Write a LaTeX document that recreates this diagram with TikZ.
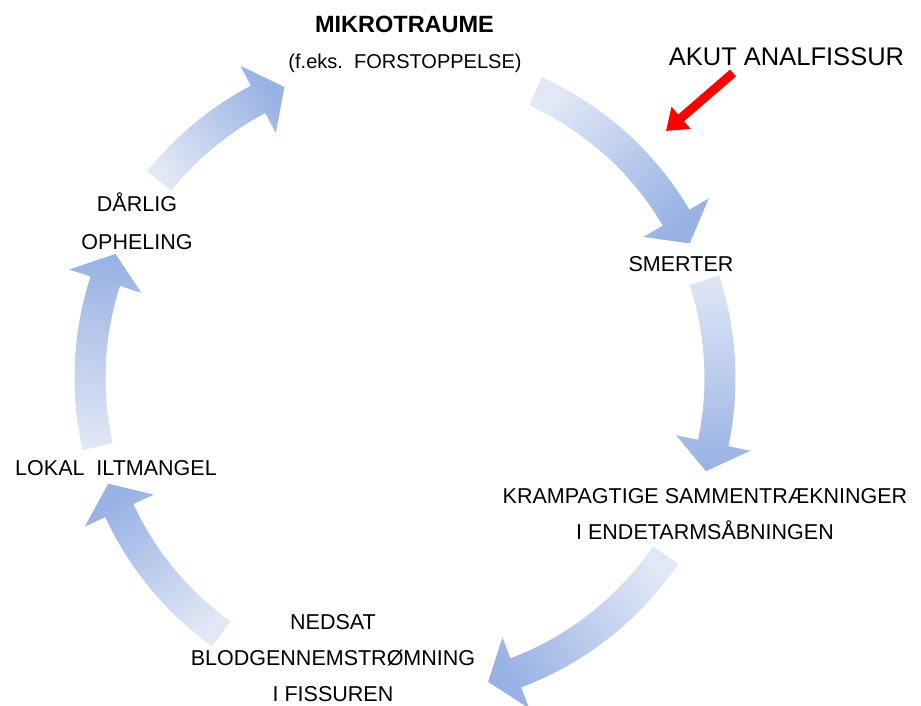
\documentclass[tikz,border=0pt]{standalone}
\usepackage{fontspec}
\setmainfont{Liberation Sans}
\usetikzlibrary{arrows.meta}
\definecolor{tailc}{RGB}{224,231,245}
\definecolor{tipc}{RGB}{152,178,228}
\definecolor{redarrow}{RGB}{255,0,0}
\tikzset{
  lbl/.style={text=black,inner sep=0pt,align=center,font=\fontsize{21.5}{36}\selectfont},
  title/.style={text=black,inner sep=0pt,font=\bfseries\fontsize{23.5}{28}\selectfont},
  sub/.style={text=black,inner sep=0pt,font=\fontsize{20}{24}\selectfont},
  akut/.style={text=black,inner sep=0pt,font=\fontsize{25.5}{30}\selectfont},
}
\newcommand\R{315}
\newcommand\cycarrow[2]{%
  \pgfmathsetmacro\sgn{(#2>#1)?1:-1}%
  \pgfmathsetmacro\ab{#2-\sgn*5.3}%
  \pgfmathsetmacro\ro{\R+15.5}%
  \pgfmathsetmacro\ri{\R-15.5}%
  \pgfmathsetmacro\rho{\R+38}%
  \pgfmathsetmacro\rhi{\R-38}%
  \pgfmathsetmacro\shang{atan2(sin(#2)-sin(#1),cos(#2)-cos(#1))-90}%
  \shade[bottom color=tailc,top color=tipc,shading angle=\shang]
    (#1:\ro) arc[start angle=#1,end angle=\ab,radius=\ro]
    -- (\ab:\rho) -- (#2:\R) -- (\ab:\rhi) -- (\ab:\ri)
    arc[start angle=\ab,end angle=#1,radius=\ri] -- cycle;
}
\begin{document}
\begin{tikzpicture}[x=1pt,y=1pt]
\useasboundingbox (-405,-328) rectangle (516,378);
% cycle arrows
\cycarrow{141.3}{112.5}
\cycarrow{65.5}{25.3}
\cycarrow{18.1}{-17.2}
\cycarrow{-34.2}{-74.7}
\cycarrow{234.3}{199.6}
\cycarrow{192.6}{156.8}
% labels
\node[title] (mikro) at (-0.5,354) {MIKROTRAUME};
\node[sub] (feks) at (0,315) {(f.eks.\ \ FORSTOPPELSE)};
\node[akut] (akut) at (381.5,321) {AKUT ANALFISSUR};
\node[lbl] (smerter) at (276,114) {SMERTER};
\node[lbl] (kramp) at (300,-136) {KRAMPAGTIGE SAMMENTRÆKNINGER\\I ENDETARMSÅBNINGEN};
\node[lbl] (nedsat) at (-72,-280) {NEDSAT\\BLODGENNEMSTRØMNING\\I FISSUREN};
\node[lbl] (lokal) at (-289,-90) {LOKAL\ \ ILTMANGEL};
\node[lbl,font=\fontsize{21.5}{38}\selectfont] (daarlig) at (-268,157) {DÅRLIG\\OPHELING};
% red arrow
\coordinate (rs) at (328,305);
\coordinate (re) at (261,247);
\draw[redarrow,line width=9pt,-{Triangle[length=20pt,width=28pt]}] (rs) -- (re);
\end{tikzpicture}
\end{document}
